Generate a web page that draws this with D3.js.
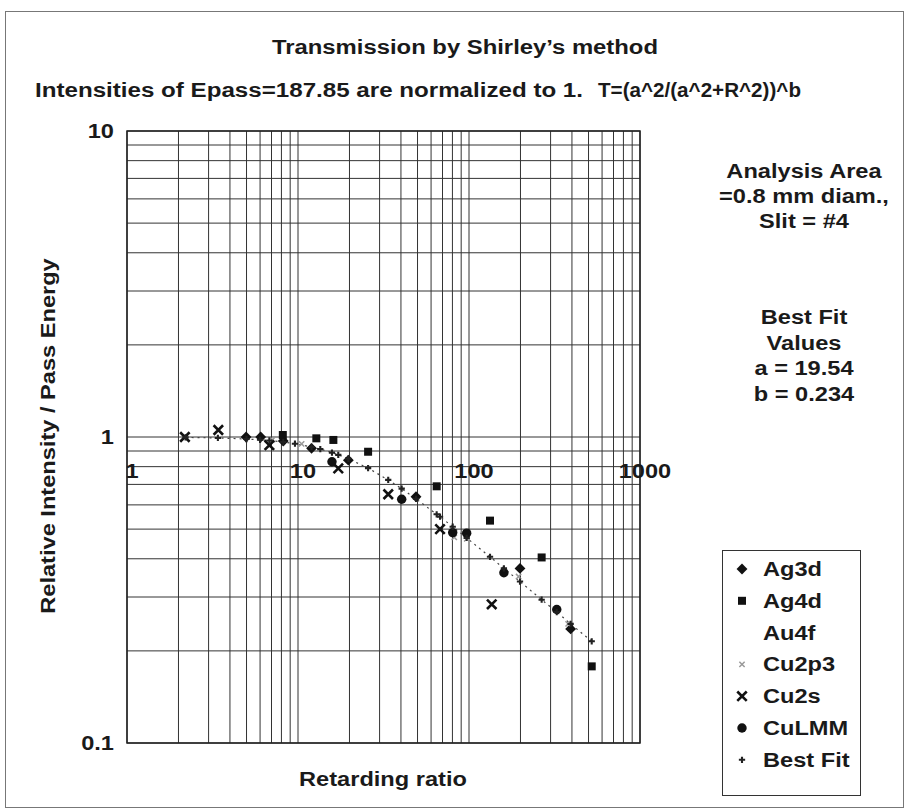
<!DOCTYPE html>
<html>
<head>
<meta charset="utf-8">
<script src="https://cdn.jsdelivr.net/npm/d3@7"></script>
<style>
  html, body { margin: 0; padding: 0; background: #fff; }
  svg { display: block; }
  text { font-family: "Liberation Sans", Arial, Helvetica, sans-serif; font-weight: bold; fill: #1a1a1a; }
</style>
</head>
<body>
<svg id="chart" width="909" height="812"></svg>
<script>
// ---------------- DATA ----------------
const xTickLabels = ["1", "10", "100", "1000"];
const xTickValues = [1, 10, 100, 1000];
const yTickLabels = ["0.1", "1", "10"];
const yTickValues = [0.1, 1, 10];

const seriesNames = ["Ag3d", "Ag4d", "Au4f", "Cu2p3", "Cu2s", "CuLMM", "Best Fit"];

const ag3dX = [4.97, 6.05, 8.2, 12.0, 19.7, 49, 198.7, 393];
const ag3dY = [1.0, 1.0, 0.97, 0.918, 0.84, 0.638, 0.372, 0.236];

const ag4dX = [8.15, 12.8, 16.1, 25.7, 64.7, 132.7, 266, 522];
const ag4dY = [1.015, 0.99, 0.978, 0.895, 0.69, 0.533, 0.404, 0.178];

const au4fX = [];
const au4fY = [];

const cu2p3X = [7.1, 10.5, 82, 97, 195, 380];
const cu2p3Y = [0.98, 0.95, 0.47, 0.465, 0.35, 0.245];

const cu2sX = [2.18, 3.42, 6.8, 17.2, 33.7, 67.7, 135.8];
const cu2sY = [1.0, 1.054, 0.94, 0.79, 0.65, 0.50, 0.284];

const culmmX = [15.8, 40.4, 80.3, 96.9, 160, 326];
const culmmY = [0.83, 0.626, 0.487, 0.485, 0.36, 0.273];

const fitX = [2.2, 3.4, 5, 6, 6.8, 8.2, 9.6, 12, 13.5, 15.8, 17.2, 19.7, 25.7, 33.7, 40.4, 49, 64.7, 67.7, 80.3, 96.9, 132.7, 160, 198.7, 266, 326, 393, 522];
const fitY = [0.997, 0.993, 0.985, 0.979, 0.974, 0.963, 0.951, 0.928, 0.913, 0.889, 0.874, 0.849, 0.791, 0.724, 0.678, 0.628, 0.559, 0.549, 0.509, 0.468, 0.406, 0.372, 0.337, 0.294, 0.268, 0.245, 0.215];

const titleText = "Transmission by Shirley\u2019s method";
const subtitleText = "Intensities of Epass=187.85 are normalized to 1.";
const formulaText = "T=(a^2/(a^2+R^2))^b";
const noteLines1 = ["Analysis Area", "=0.8 mm diam.,", "Slit = #4"];
const noteLines2 = ["Best Fit", "Values", "a = 19.54", "b = 0.234"];
const xAxisTitle = "Retarding ratio";
const yAxisTitle = "Relative Intensity / Pass Energy";

// ---------------- CHART ----------------
const svg = d3.select("#chart");
const STRETCH = 1.18;

const x = d3.scaleLog().domain([1, 1000]).range([127, 640]);
const y = d3.scaleLog().domain([0.1, 10]).range([743, 131]);

// outer frame
svg.append("rect").attr("x", 5.5).attr("y", 11.5).attr("width", 898).attr("height", 796)
  .attr("fill", "none").attr("stroke", "#777").attr("stroke-width", 1);

// gridlines
const g = svg.append("g");
g.selectAll("line.vg").data(x.ticks()).join("line")
  .attr("class", "vg")
  .attr("x1", d => x(d)).attr("x2", d => x(d))
  .attr("y1", y.range()[1]).attr("y2", y.range()[0])
  .attr("stroke", "#333").attr("stroke-width", 1);
g.selectAll("line.hg").data(y.ticks()).join("line")
  .attr("class", "hg")
  .attr("y1", d => y(d)).attr("y2", d => y(d))
  .attr("x1", x.range()[0]).attr("x2", x.range()[1])
  .attr("stroke", "#333").attr("stroke-width", 1);

// plot frame
svg.append("rect")
  .attr("x", x.range()[0]).attr("y", y.range()[1])
  .attr("width", x.range()[1] - x.range()[0]).attr("height", y.range()[0] - y.range()[1])
  .attr("fill", "none").attr("stroke", "#222").attr("stroke-width", 1.5);

// helper for stretched text
function stretch(sel, target) {
  sel.each(function () {
    const len = target || this.getComputedTextLength() * STRETCH;
    d3.select(this).attr("textLength", len).attr("lengthAdjust", "spacingAndGlyphs");
  });
  return sel;
}

// y tick labels
svg.append("g").selectAll("text").data(yTickValues).join("text")
  .attr("x", 114).attr("y", d => y(d) + 7)
  .attr("text-anchor", "end").attr("font-size", 20)
  .text((d, i) => yTickLabels[i])
  .call(stretch);

// x tick labels (axis crosses at y = 1)
svg.append("g").selectAll("text").data(xTickValues).join("text")
  .attr("x", d => x(d) + 5).attr("y", y(1) + 41)
  .attr("text-anchor", "middle").attr("font-size", 20)
  .text((d, i) => xTickLabels[i])
  .call(stretch);

// best fit dotted line
const pts = (xs, ys) => xs.map((v, i) => ({ x: v, y: ys[i] }));
const fitPts = pts(fitX, fitY);
svg.append("path")
  .datum(fitPts)
  .attr("d", d3.line().x(d => x(d.x)).y(d => y(d.y)))
  .attr("fill", "none").attr("stroke", "#444").attr("stroke-width", 1.2)
  .attr("stroke-dasharray", "2,4");

// marker symbols
const sym = {
  "Ag3d": d3.symbol().type(d3.symbolDiamond2).size(75),
  "Ag4d": d3.symbol().type(d3.symbolSquare).size(64),
  "Au4f": null,
  "Cu2p3": d3.symbol().type(d3.symbolTimes).size(20),
  "Cu2s": d3.symbol().type(d3.symbolTimes).size(60),
  "CuLMM": d3.symbol().type(d3.symbolCircle).size(70),
  "Best Fit": d3.symbol().type(d3.symbolCross).size(22)
};
const styleOf = {
  "Ag3d": { fill: "#111", stroke: "none", sw: 0 },
  "Ag4d": { fill: "#111", stroke: "none", sw: 0 },
  "Au4f": { fill: "none", stroke: "none", sw: 0 },
  "Cu2p3": { fill: "none", stroke: "#999", sw: 1.5 },
  "Cu2s": { fill: "none", stroke: "#111", sw: 2.6 },
  "CuLMM": { fill: "#111", stroke: "none", sw: 0 },
  "Best Fit": { fill: "#222", stroke: "none", sw: 0 }
};
const seriesData = {
  "Ag3d": pts(ag3dX, ag3dY),
  "Ag4d": pts(ag4dX, ag4dY),
  "Au4f": pts(au4fX, au4fY),
  "Cu2p3": pts(cu2p3X, cu2p3Y),
  "Cu2s": pts(cu2sX, cu2sY),
  "CuLMM": pts(culmmX, culmmY),
  "Best Fit": fitPts
};
seriesNames.forEach(name => {
  if (!sym[name]) return;
  const st = styleOf[name];
  svg.append("g").selectAll("path").data(seriesData[name]).join("path")
    .attr("transform", d => `translate(${x(d.x)},${y(d.y)})`)
    .attr("d", sym[name]())
    .attr("fill", st.fill).attr("stroke", st.stroke).attr("stroke-width", st.sw);
});

// titles
svg.append("text").attr("x", 465).attr("y", 54).attr("text-anchor", "middle")
  .attr("font-size", 20).text(titleText).call(stretch, 386);
svg.append("text").attr("x", 35).attr("y", 97).attr("text-anchor", "start")
  .attr("font-size", 20).text(subtitleText).call(stretch, 548);
svg.append("text").attr("x", 598).attr("y", 97).attr("text-anchor", "start")
  .attr("font-size", 20).attr("font-weight", "normal").text(formulaText).call(stretch, 203);

// axis titles
svg.append("text").attr("x", 383).attr("y", 786).attr("text-anchor", "middle")
  .attr("font-size", 20).text(xAxisTitle).call(stretch);
svg.append("text").attr("transform", "translate(55,436) rotate(-90)")
  .attr("text-anchor", "middle").attr("font-size", 20).text(yAxisTitle).call(stretch);

// notes on the right
svg.append("g").selectAll("text").data(noteLines1).join("text")
  .attr("x", 804).attr("y", (d, i) => 178 + i * 25).attr("text-anchor", "middle")
  .attr("font-size", 20).text(d => d).call(stretch);
svg.append("g").selectAll("text").data(noteLines2).join("text")
  .attr("x", 804).attr("y", (d, i) => 324 + i * 25.5).attr("text-anchor", "middle")
  .attr("font-size", 20).text(d => d).call(stretch);

// legend
const lg = svg.append("g");
lg.append("rect").attr("x", 722.5).attr("y", 550.5).attr("width", 138).attr("height", 245)
  .attr("fill", "#fff").attr("stroke", "#333").attr("stroke-width", 1);
seriesNames.forEach((name, i) => {
  const cy = 569 + i * 31.8;
  if (sym[name]) {
    const st = styleOf[name];
    lg.append("path").attr("transform", `translate(742,${cy})`)
      .attr("d", sym[name]())
      .attr("fill", st.fill).attr("stroke", st.stroke).attr("stroke-width", st.sw);
  }
  lg.append("text").attr("x", 763).attr("y", cy + 7).attr("font-size", 20)
    .text(name).call(stretch);
});
</script>
</body>
</html>
